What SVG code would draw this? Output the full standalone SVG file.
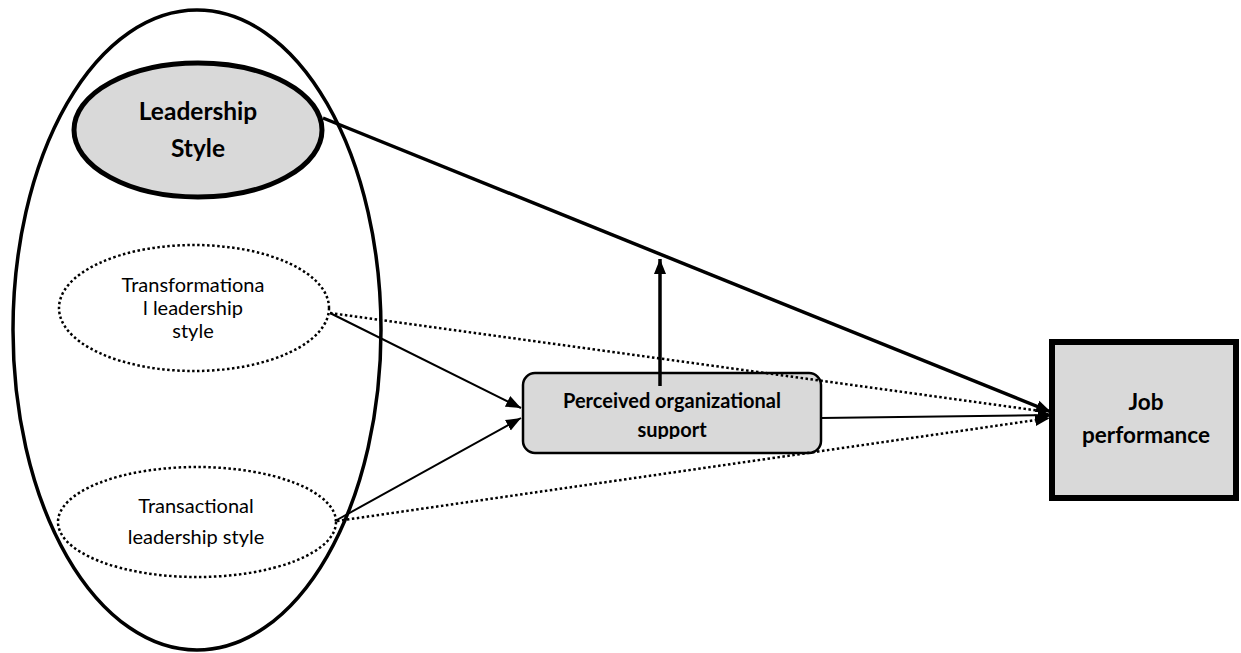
<svg xmlns="http://www.w3.org/2000/svg" width="1241" height="653" viewBox="0 0 1241 653">
  <defs>
    <style>
      .bold { font-family: Lato, "Open Sans", sans-serif; font-weight: bold; fill: #000; text-anchor: middle; }
      .reg { font-family: Lato, "Open Sans", sans-serif; fill: #000; text-anchor: middle; }
      .dotted { fill: none; stroke: #000; stroke-width: 2.5; stroke-dasharray: 2.5 2.5; }
      .solid { fill: none; stroke: #000; stroke-width: 2; }
      .thick { fill: none; stroke: #000; stroke-width: 3.5; }
    </style>
    <marker id="arrow" markerUnits="userSpaceOnUse" markerWidth="16" markerHeight="14" refX="15" refY="7" orient="auto">
      <path d="M0,1 L15,7 L0,13 Z" fill="#000"/>
    </marker>
    <clipPath id="posclip">
      <rect x="0" y="0" width="1241" height="439"/>
    </clipPath>
  </defs>

  <g id="leadership-group">
    <ellipse cx="197" cy="330" rx="184" ry="320" fill="none" stroke="#000" stroke-width="3.5"/>
  </g>

  <g id="leadership-style">
    <ellipse cx="198" cy="130" rx="124" ry="67" fill="#d9d9d9" stroke="#000" stroke-width="5"/>
    <text class="bold" x="198" y="120" font-size="24.5">Leadership</text>
    <text class="bold" x="198" y="157" font-size="24.5">Style</text>
  </g>

  <g id="transformational">
    <ellipse cx="194" cy="308" rx="135" ry="63" fill="none" class="dotted"/>
    <text class="reg" x="193" y="292" font-size="20">Transformationa</text>
    <text class="reg" x="193" y="315" font-size="20">l leadership</text>
    <text class="reg" x="193" y="338" font-size="20">style</text>
  </g>

  <g id="transactional">
    <ellipse cx="197" cy="522" rx="139" ry="55" fill="none" class="dotted"/>
    <text class="reg" x="196" y="513" font-size="20">Transactional</text>
    <text class="reg" x="196" y="544" font-size="20">leadership style</text>
  </g>

  <g id="pos">
    <rect x="523" y="373" width="298" height="80" rx="12" ry="12" fill="#d9d9d9" stroke="#000" stroke-width="2.5"/>
    <text class="bold" x="672" y="408" font-size="20">Perceived organizational</text>
    <text class="bold" x="672" y="437" font-size="20" clip-path="url(#posclip)">support</text>
  </g>

  <g id="job-performance">
    <rect x="1052" y="342" width="184" height="156" fill="#d9d9d9" stroke="#000" stroke-width="6"/>
    <text class="bold" x="1146" y="410" font-size="22.5">Job</text>
    <text class="bold" x="1146" y="443" font-size="22.5">performance</text>
  </g>

  <g id="connectors">
    <line class="dotted" x1="330" y1="313" x2="1048" y2="412"/>
    <line class="dotted" x1="337" y1="521" x2="1050" y2="418" marker-end="url(#arrow)"/>
    <line class="thick" x1="323" y1="118" x2="1051" y2="412" marker-end="url(#arrow)"/>
    <line class="thick" x1="660" y1="386" x2="660" y2="259" marker-end="url(#arrow)"/>
    <line class="solid" x1="330" y1="313" x2="521" y2="408" marker-end="url(#arrow)"/>
    <line class="solid" x1="335" y1="521" x2="521" y2="418" marker-end="url(#arrow)"/>
    <line class="solid" x1="821" y1="418" x2="1053" y2="415" marker-end="url(#arrow)"/>
  </g>
</svg>
